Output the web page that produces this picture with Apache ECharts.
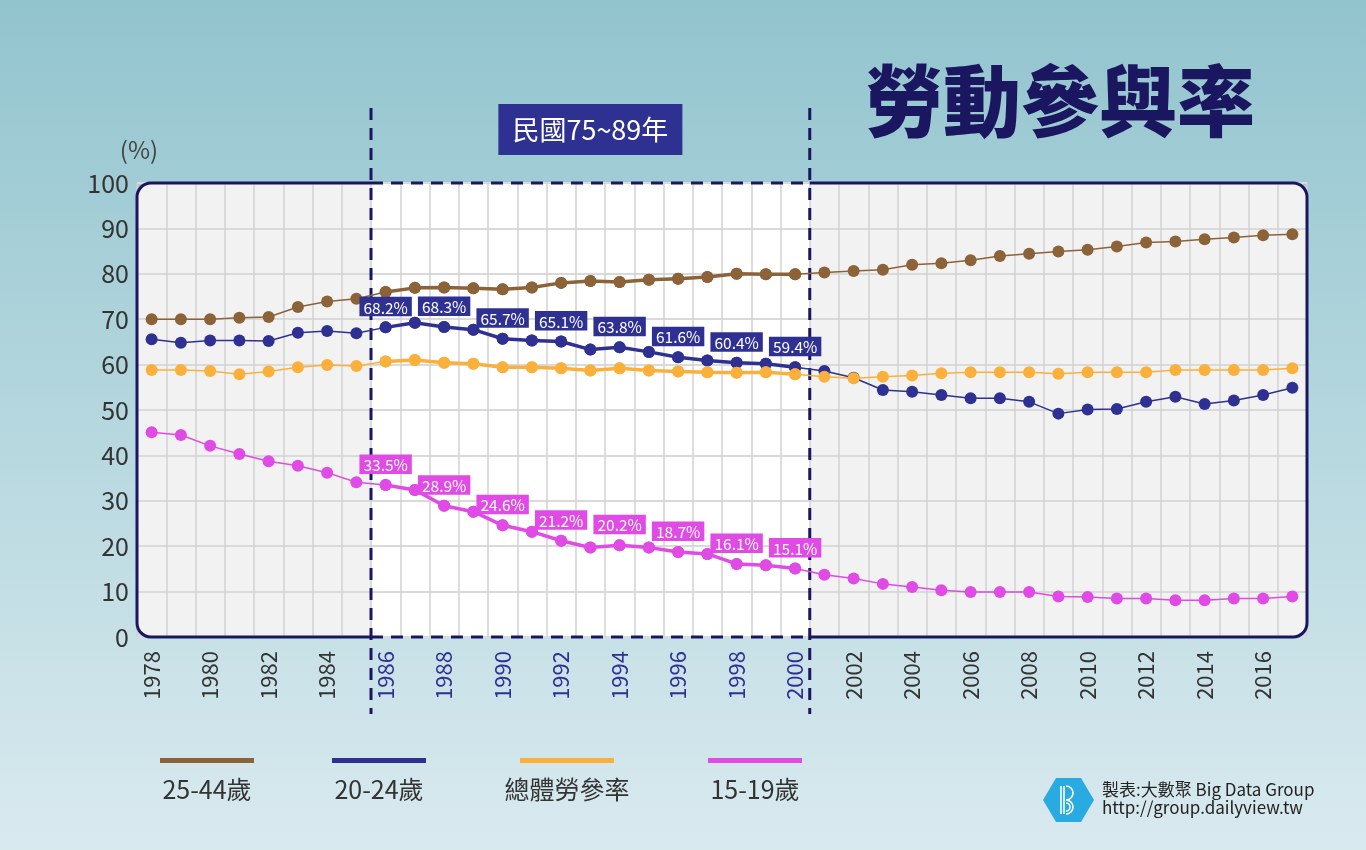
<!DOCTYPE html>
<html><head><meta charset="utf-8">
<script src="https://cdn.jsdelivr.net/npm/echarts@6/dist/echarts.min.js"></script>
<style>html,body{margin:0;padding:0;}#c{width:1366px;height:850px;}</style>
</head><body><div id="c"></div>
<script>
// ---------- data ----------
const years = ['1978','1979','1980','1981','1982','1983','1984','1985','1986','1987',
  '1988','1989','1990','1991','1992','1993','1994','1995','1996','1997',
  '1998','1999','2000','2001','2002','2003','2004','2005','2006','2007',
  '2008','2009','2010','2011','2012','2013','2014','2015','2016','2017'];
const age25_44 = [70.0,70.0,70.0,70.3,70.5,72.7,73.9,74.5,76.0,76.9,
  77.0,76.8,76.6,77.0,78.0,78.4,78.2,78.7,78.9,79.3,
  80.0,79.9,79.9,80.3,80.6,80.9,82.0,82.3,83.0,83.9,
  84.4,84.9,85.3,86.0,86.9,87.1,87.6,88.0,88.5,88.7];
const age20_24 = [65.6,64.8,65.3,65.3,65.2,67.0,67.4,66.9,68.2,69.2,
  68.3,67.7,65.7,65.3,65.1,63.3,63.8,62.8,61.6,60.9,
  60.4,60.2,59.4,58.6,57.1,54.4,54.0,53.3,52.6,52.6,
  51.8,49.2,50.1,50.2,51.8,52.9,51.3,52.1,53.3,54.9];
const totalRate = [58.8,58.8,58.6,57.9,58.5,59.4,59.9,59.7,60.7,61.0,
  60.4,60.2,59.4,59.4,59.2,58.7,59.2,58.7,58.5,58.3,
  58.2,58.3,57.9,57.3,57.0,57.3,57.6,58.1,58.3,58.3,
  58.3,58.0,58.3,58.3,58.3,58.8,58.8,58.8,58.8,59.2];
const age15_19 = [45.1,44.5,42.1,40.3,38.7,37.7,36.2,34.1,33.5,32.4,
  28.9,27.6,24.6,23.2,21.2,19.7,20.2,19.7,18.7,18.3,
  16.1,15.8,15.1,13.7,12.9,11.7,11.0,10.3,9.9,9.9,
  9.9,8.9,8.8,8.5,8.5,8.1,8.1,8.5,8.5,8.9];
const seriesNames = ['25-44歲','20-24歲','總體勞參率','15-19歲'];
const labelledSeries = ['20-24歲','15-19歲'];
const windowStart = '1986', windowEnd = '2000';
const labelYears = ['1986','1988','1990','1992','1994','1996','1998','2000'];
const windowText = '民國75~89年';
const titleText = '勞動參與率';
const unitText = '(%)';
const creditLines = ['製表:大數聚 Big Data Group','http://group.dailyview.tw'];
const yMin = 0, yMax = 100, yInterval = 10;

// ---------- styles ----------
const colors = ['#8c6239','#2e3192','#fbb03b','#e04ae5'];
const navyDark = '#1b1660';
const cjk = '"Noto Sans CJK TC","Noto Sans",sans-serif';
const valuesList = [age25_44, age20_24, totalRate, age15_19];
const wS = years.indexOf(windowStart), wE = years.indexOf(windowEnd);

const series = [];
valuesList.forEach((vals, i) => {
  const name = seriesNames[i];
  series.push({
    type: 'line', name, data: vals, symbol: 'circle', symbolSize: 12,
    lineStyle: { width: 1.5, color: colors[i] }, itemStyle: { color: colors[i] },
    z: 3 + i
  });
  const lab = labelledSeries.includes(name);
  series.push({
    type: 'line', name, data: vals.map((v, k) => {
      if (k < wS || k > wE) return null;
      if (lab && labelYears.includes(years[k])) return { value: v, label: { show: true } };
      return v;
    }),
    symbol: 'circle', symbolSize: 12, connectNulls: false,
    lineStyle: { width: 3.5, color: colors[i] }, itemStyle: { color: colors[i] },
    label: {
      show: false, position: 'top', distance: 5,
      formatter: p => p.value.toFixed(1) + '%',
      color: '#fff', fontSize: 15.5, fontFamily: cjk,
      backgroundColor: colors[i], padding: [3, 4, 1, 4]
    },
    z: 3 + i
  });
});

const chart = echarts.init(document.getElementById('c'), null, { renderer: 'canvas' });
chart.setOption({
  animation: false,
  backgroundColor: new echarts.graphic.LinearGradient(0, 0, 0, 1, [
    { offset: 0, color: '#92c4ce' }, { offset: 1, color: '#d9eaef' }]),
  grid: { left: 137, right: 59, top: 183, bottom: 213, outerBoundsMode: 'none' },
  xAxis: {
    type: 'category', data: years, boundaryGap: true,
    axisLine: { show: false }, axisTick: { show: false },
    axisLabel: {
      interval: 1, rotate: 90, margin: 14, fontSize: 22, fontFamily: cjk,
      color: (v) => {
        const k = years.indexOf(v);
        return (k >= wS && k <= wE) ? '#2e3192' : '#333';
      }
    },
    splitLine: { show: true, interval: 0, lineStyle: { color: '#d2d2d2', width: 1.5 } }
  },
  yAxis: {
    type: 'value', min: yMin, max: yMax, interval: yInterval,
    axisLine: { show: false }, axisTick: { show: false },
    axisLabel: { fontSize: 25, color: '#333', margin: 8, fontFamily: cjk },
    splitLine: { lineStyle: { color: '#dadada', width: 2 } }
  },
  series
});

// ---------- decorations from the library's scale ----------
const px = (c, v) => chart.convertToPixel({ xAxisIndex: 0, yAxisIndex: 0 }, [c, v]);
const band = px(years[1], 0)[0] - px(years[0], 0)[0];
const L = px(years[0], 0)[0] - band / 2;
const R = px(years[years.length - 1], 0)[0] + band / 2;
const T = px(years[0], yMax)[1];
const B = px(years[0], yMin)[1];
const WL = px(windowStart, 0)[0] - band / 2;
const WR = px(windowEnd, 0)[0] + band / 2;
const r = 14;
const solid = { stroke: navyDark, lineWidth: 3, fill: null };
const dashStyle = { stroke: navyDark, lineWidth: 3, lineDash: [12, 8], fill: null };
const PI = Math.PI;

const graphics = [
  { type: 'rect', z: -10, silent: true, shape: { x: L, y: T, width: R - L, height: B - T, r: r }, style: { fill: '#f2f2f2' } },
  { type: 'rect', z: -9, silent: true, shape: { x: WL, y: T, width: WR - WL, height: B - T }, style: { fill: '#ffffff' } },
  // solid border outside the window
  { type: 'line', z: 20, silent: true, shape: { x1: WL, y1: T, x2: L + r, y2: T }, style: solid },
  { type: 'arc', z: 20, silent: true, shape: { cx: L + r, cy: T + r, r: r, startAngle: PI, endAngle: 1.5 * PI }, style: solid },
  { type: 'line', z: 20, silent: true, shape: { x1: L, y1: T + r, x2: L, y2: B - r }, style: solid },
  { type: 'arc', z: 20, silent: true, shape: { cx: L + r, cy: B - r, r: r, startAngle: 0.5 * PI, endAngle: PI }, style: solid },
  { type: 'line', z: 20, silent: true, shape: { x1: L + r, y1: B, x2: WL, y2: B }, style: solid },
  { type: 'line', z: 20, silent: true, shape: { x1: WR, y1: T, x2: R - r, y2: T }, style: solid },
  { type: 'arc', z: 20, silent: true, shape: { cx: R - r, cy: T + r, r: r, startAngle: 1.5 * PI, endAngle: 2 * PI }, style: solid },
  { type: 'line', z: 20, silent: true, shape: { x1: R, y1: T + r, x2: R, y2: B - r }, style: solid },
  { type: 'arc', z: 20, silent: true, shape: { cx: R - r, cy: B - r, r: r, startAngle: 0, endAngle: 0.5 * PI }, style: solid },
  { type: 'line', z: 20, silent: true, shape: { x1: R - r, y1: B, x2: WR, y2: B }, style: solid },
  // dashed window
  { type: 'line', z: 20, silent: true, shape: { x1: WL, y1: T, x2: WR, y2: T }, style: dashStyle },
  { type: 'line', z: 20, silent: true, shape: { x1: WL, y1: B, x2: WR, y2: B }, style: dashStyle },
  { type: 'line', z: 2.5, silent: true, shape: { x1: WL, y1: T - 75, x2: WL, y2: B + 77 }, style: dashStyle },
  { type: 'line', z: 2.5, silent: true, shape: { x1: WR, y1: T - 75, x2: WR, y2: B + 77 }, style: dashStyle },
  // period box
  { type: 'rect', z: 20, shape: { x: (WL + WR) / 2 - 92, y: 104, width: 184, height: 51 }, style: { fill: '#2e3192' } },
  { type: 'text', z: 21, style: { text: windowText, x: (WL + WR) / 2, y: 130, align: 'center', verticalAlign: 'middle',
      fill: '#fff', fontSize: 27, fontFamily: cjk } },
  // title
  { type: 'text', z: 21, style: { text: titleText, x: 1060, y: 101, align: 'center', verticalAlign: 'middle',
      fill: navyDark, fontSize: 78, fontWeight: 900, fontFamily: cjk } },
  // unit
  { type: 'text', z: 21, style: { text: unitText, x: 139, y: 150, align: 'center', verticalAlign: 'middle',
      fill: '#444', fontSize: 24, fontFamily: cjk } }
];

// legend
const legendX = [207, 379, 567, 755];
seriesNames.forEach((n, i) => {
  graphics.push({ type: 'rect', z: 21, shape: { x: legendX[i] - 47, y: 758, width: 94, height: 5 }, style: { fill: colors[i] } });
  graphics.push({ type: 'text', z: 21, style: { text: n, x: legendX[i], y: 789, align: 'center', verticalAlign: 'middle',
      fill: '#333', fontSize: 25, fontFamily: cjk } });
});

// credit logo
graphics.push({ type: 'polygon', z: 21, shape: { points: [[1043, 800], [1056, 778], [1081, 778], [1094, 800], [1081, 822], [1056, 822]] },
  style: { fill: '#29abe2' } });
const logoLine = { stroke: '#fff', lineWidth: 1.6, fill: null };
graphics.push({ type: 'line', z: 22, shape: { x1: 1061, y1: 786, x2: 1061, y2: 814 }, style: logoLine });
graphics.push({ type: 'line', z: 22, shape: { x1: 1064, y1: 786, x2: 1064, y2: 814 }, style: logoLine });
graphics.push({ type: 'arc', z: 22, shape: { cx: 1066, cy: 793, r: 7, startAngle: -0.5 * PI, endAngle: 0.5 * PI }, style: logoLine });
graphics.push({ type: 'arc', z: 22, shape: { cx: 1066, cy: 807, r: 7, startAngle: -0.5 * PI, endAngle: 0.5 * PI }, style: logoLine });
graphics.push({ type: 'arc', z: 22, shape: { cx: 1066, cy: 807, r: 4, startAngle: -0.5 * PI, endAngle: 0.5 * PI }, style: logoLine });
creditLines.forEach((t, i) => {
  graphics.push({ type: 'text', z: 21, style: { text: t, x: 1102, y: 790 + i * 18, align: 'left', verticalAlign: 'middle',
      fill: '#222', fontSize: 17, fontFamily: cjk } });
});

chart.setOption({ graphic: graphics });
</script>
</body></html>
